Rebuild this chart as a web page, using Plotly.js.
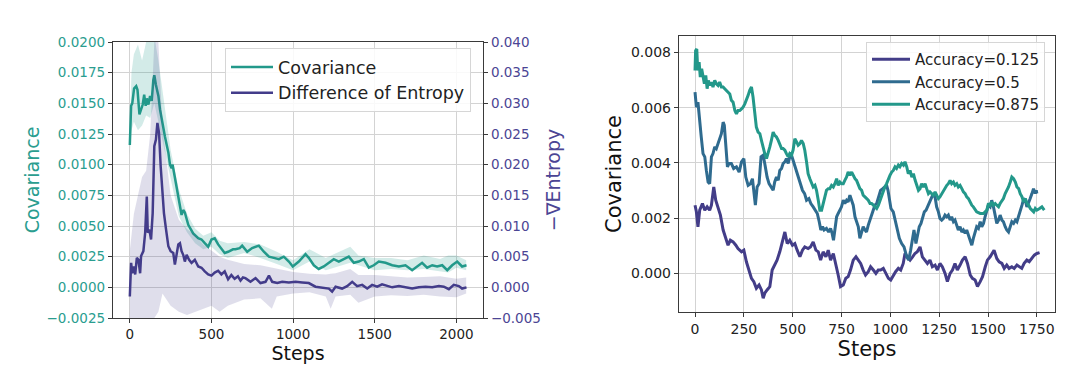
<!DOCTYPE html>
<html><head><meta charset="utf-8">
<script src="https://cdn.plot.ly/plotly-3.0.1.min.js"></script>
<style>html,body{margin:0;padding:0;background:#fff;} #chart{width:1080px;height:385px;}</style>
</head><body><div id="chart"></div>
<script>
// ---------- Left chart: Covariance (left axis) & Difference of Entropy (right axis) ----------
const covSteps = [0,8,15,26,39,47,59,67,79,88,97,104,114,124,134,144,150,160,175,185,195,205,215,226,236,246,256,262,272,287,297,307,317,327,337,358,388,419,439,459,480,500,520,541,561,581,602,632,647,673,688,719,749,790,821,852,882,913,943,974,998,1035,1076,1096,1127,1157,1188,1219,1249,1280,1311,1341,1372,1402,1433,1464,1494,1525,1566,1607,1648,1688,1729,1760,1790,1821,1852,1882,1913,1944,1974,2005,2035,2062];
const covValues = [0.0116,0.0148,0.0150,0.0162,0.0164,0.0161,0.0141,0.0144,0.0149,0.0157,0.0148,0.0154,0.0149,0.0156,0.0152,0.0169,0.0173,0.0165,0.0156,0.0145,0.0137,0.0130,0.0123,0.0116,0.0110,0.0100,0.0097,0.0100,0.0093,0.0082,0.0074,0.0066,0.0059,0.0063,0.0061,0.0051,0.0044,0.0040,0.0039,0.0036,0.0033,0.0039,0.0040,0.0035,0.0031,0.0028,0.0029,0.0031,0.0031,0.0032,0.0034,0.0029,0.0032,0.0034,0.0029,0.0025,0.0024,0.0023,0.0025,0.0021,0.0017,0.0021,0.0027,0.0024,0.0018,0.0015,0.0017,0.0020,0.0023,0.0021,0.0023,0.0025,0.0020,0.0021,0.0023,0.0016,0.0018,0.0021,0.0020,0.0018,0.0017,0.0018,0.0014,0.0017,0.0020,0.0016,0.0018,0.0017,0.0018,0.0014,0.0018,0.0021,0.0017,0.0018];

const covBandSteps = [0,10,25,50,75,100,125,150,175,200,250,300,350,400,450,500,550,600,700,800,900,1000,1100,1200,1300,1350,1400,1500,1600,1700,1800,1900,1950,2000,2060];
const covBandLower = [0.0108,0.0128,0.0135,0.0128,0.0132,0.0140,0.0138,0.0150,0.0135,0.0120,0.0090,0.0058,0.0045,0.0036,0.0031,0.0033,0.0027,0.0024,0.0028,0.0024,0.0019,0.0014,0.0021,0.0014,0.0018,0.0020,0.0018,0.0014,0.0015,0.0014,0.0015,0.0013,0.0012,0.0016,0.0014];
const covBandUpper = [0.0125,0.0175,0.0190,0.0198,0.0185,0.0200,0.0205,0.0205,0.0185,0.0160,0.0112,0.0080,0.0060,0.0048,0.0042,0.0045,0.0038,0.0036,0.0037,0.0035,0.0029,0.0022,0.0031,0.0024,0.0030,0.0033,0.0026,0.0024,0.0024,0.0022,0.0026,0.0023,0.0026,0.0026,0.0022];

const entSteps = [0,8,15,26,33,43,53,63,69,83,94,104,110,120,130,140,150,160,169,179,189,199,209,222,236,250,266,276,287,297,307,317,327,337,348,363,378,398,419,439,459,480,500,520,541,561,581,602,622,642,662,678,693,708,739,770,800,831,852,872,903,933,974,1015,1056,1096,1137,1178,1219,1239,1260,1300,1331,1362,1392,1423,1454,1484,1515,1545,1576,1607,1648,1688,1729,1770,1811,1852,1893,1923,1954,1984,2015,2035,2062];
const entValues = [-0.0015,0.0040,0.0023,0.0034,0.0021,0.0048,0.0045,0.0023,0.0051,0.0059,0.0089,0.0148,0.0089,0.0094,0.0078,0.0121,0.0230,0.0241,0.0268,0.0252,0.0197,0.0154,0.0121,0.0094,0.0067,0.0059,0.0056,0.0037,0.0056,0.0070,0.0072,0.0059,0.0053,0.0042,0.0053,0.0045,0.0040,0.0045,0.0034,0.0032,0.0026,0.0021,0.0019,0.0024,0.0027,0.0021,0.0026,0.0013,0.0020,0.0014,0.0018,0.0011,0.0016,0.0015,0.0009,0.0015,0.0007,0.0009,0.0019,0.0009,0.0007,0.0009,0.0008,0.0009,0.0008,0.0007,0.0001,0.0000,-0.0002,-0.0007,0.0001,-0.0002,0.0002,0.0009,0.0002,0.0004,-0.0002,0.0004,0.0001,0.0005,0.0002,0.0000,0.0002,0.0000,-0.0002,0.0000,0.0001,0.0000,0.0002,0.0001,-0.0003,0.0004,0.0002,-0.0002,0.0000];

const entBandSteps = [0,25,50,75,100,125,150,175,200,250,300,350,400,450,500,550,600,700,800,870,900,1000,1100,1200,1230,1260,1350,1400,1500,1600,1700,1800,1900,2000,2060];
const entBandLower = [-0.0050,-0.0050,-0.0050,-0.0050,-0.0050,-0.0050,-0.0050,-0.0040,-0.0010,-0.0030,-0.0040,-0.0045,-0.0040,-0.0035,-0.0030,-0.0040,-0.0030,-0.0020,-0.0018,-0.0035,-0.0015,-0.0010,-0.0008,-0.0015,-0.0035,-0.0015,-0.0012,-0.0025,-0.0015,-0.0013,-0.0014,-0.0012,-0.0015,-0.0016,-0.0010];
const entBandUpper = [0.0060,0.0120,0.0150,0.0180,0.0190,0.0250,0.0400,0.0400,0.0260,0.0150,0.0110,0.0095,0.0085,0.0070,0.0060,0.0050,0.0045,0.0038,0.0036,0.0032,0.0030,0.0025,0.0022,0.0021,0.0022,0.0023,0.0030,0.0020,0.0020,0.0018,0.0016,0.0017,0.0018,0.0014,0.0016];

const leftXTicks = [0,500,1000,1500,2000];

// ---------- Right chart: Covariance by accuracy ----------
const acc125Steps = [0,7,15,24,38,50,62,75,84,96,106,118,130,144,157,169,181,195,209,220,238,250,263,275,289,301,314,328,340,349,357,369,383,395,408,420,434,448,460,472,485,499,511,523,537,550,562,579,591,605,619,631,643,656,670,682,694,708,721,733,745,759,772,784,796,810,824,836,848,861,873,887,899,913,926,938,950,964,978,990,1002,1015,1027,1041,1053,1066,1075,1087,1101,1114,1126,1138,1152,1164,1178,1190,1203,1215,1229,1241,1254,1266,1280,1292,1306,1318,1331,1343,1357,1369,1383,1395,1409,1420,1434,1446,1460,1472,1486,1497,1511,1523,1531,1545,1557,1571,1583,1596,1608,1622,1634,1648,1659,1673,1685,1699,1711,1725,1737,1750,1764];
const acc125Values = [0.00247,0.00223,0.00169,0.00229,0.00253,0.00229,0.00241,0.00229,0.00247,0.00313,0.00265,0.00241,0.00211,0.00157,0.00127,0.00102,0.00120,0.00114,0.00102,0.00090,0.00078,0.00084,0.00042,0.00012,-0.00018,-0.00030,-0.00054,-0.00042,-0.00060,-0.00090,-0.00072,-0.00060,-0.00048,0.00012,0.00030,0.00048,0.00078,0.00120,0.00150,0.00108,0.00120,0.00102,0.00108,0.00084,0.00060,0.00084,0.00096,0.00090,0.00096,0.00114,0.00084,0.00078,0.00048,0.00078,0.00060,0.00084,0.00048,0.00072,0.00036,-0.00006,-0.00048,-0.00042,-0.00018,-0.00012,0.00012,0.00048,0.00060,0.00048,0.00036,0.00012,-0.00006,0.00006,0.00024,0.00012,0.00000,0.00012,0.00012,0.00018,0.00000,-0.00018,-0.00024,-0.00006,0.00006,0.00018,0.00012,0.00036,0.00072,0.00060,0.00048,0.00060,0.00072,0.00078,0.00096,0.00060,0.00048,0.00036,0.00048,0.00024,0.00030,0.00012,0.00036,0.00024,0.00000,-0.00030,0.00000,0.00012,0.00036,0.00012,0.00030,0.00048,0.00060,0.00036,-0.00006,-0.00018,-0.00024,-0.00048,-0.00030,-0.00012,0.00024,0.00048,0.00060,0.00072,0.00084,0.00054,0.00042,0.00036,0.00018,0.00030,0.00018,0.00024,0.00018,0.00030,0.00024,0.00018,0.00036,0.00048,0.00042,0.00054,0.00066,0.00072,0.00075];

const acc500Steps = [0,7,15,24,32,41,50,58,67,75,84,92,101,109,118,126,135,144,150,157,166,174,186,198,212,226,238,250,260,272,284,294,301,309,318,328,338,349,357,369,379,391,400,408,417,426,434,443,451,460,468,477,485,494,502,511,520,530,540,550,561,571,583,593,605,617,626,636,644,653,661,673,684,694,702,709,716,725,733,742,750,759,767,776,784,793,802,810,819,827,836,844,853,861,870,878,887,896,904,913,921,930,940,950,961,971,981,988,995,1003,1015,1025,1036,1046,1058,1070,1084,1094,1104,1114,1121,1131,1140,1148,1157,1166,1174,1183,1193,1203,1212,1220,1229,1237,1246,1254,1263,1272,1280,1289,1297,1306,1314,1323,1331,1340,1348,1357,1366,1374,1383,1391,1400,1408,1417,1425,1434,1442,1451,1460,1468,1477,1485,1494,1502,1511,1519,1528,1536,1545,1554,1562,1571,1579,1588,1596,1605,1614,1622,1631,1640,1648,1657,1665,1674,1683,1691,1699,1707,1716,1725,1733,1742,1747,1750];
const acc500Values = [0.00657,0.00602,0.00620,0.00542,0.00494,0.00434,0.00422,0.00373,0.00331,0.00325,0.00422,0.00434,0.00458,0.00452,0.00470,0.00482,0.00506,0.00548,0.00536,0.00470,0.00386,0.00398,0.00398,0.00380,0.00386,0.00367,0.00404,0.00416,0.00349,0.00319,0.00325,0.00343,0.00307,0.00247,0.00313,0.00325,0.00422,0.00428,0.00398,0.00349,0.00325,0.00313,0.00301,0.00331,0.00349,0.00337,0.00373,0.00380,0.00398,0.00404,0.00416,0.00398,0.00422,0.00428,0.00410,0.00398,0.00373,0.00349,0.00325,0.00301,0.00289,0.00265,0.00271,0.00253,0.00241,0.00229,0.00217,0.00187,0.00157,0.00169,0.00157,0.00163,0.00150,0.00163,0.00145,0.00120,0.00169,0.00205,0.00217,0.00229,0.00241,0.00265,0.00253,0.00265,0.00259,0.00283,0.00265,0.00247,0.00205,0.00187,0.00169,0.00127,0.00150,0.00169,0.00157,0.00150,0.00175,0.00193,0.00211,0.00229,0.00247,0.00253,0.00277,0.00301,0.00307,0.00313,0.00319,0.00301,0.00265,0.00235,0.00223,0.00193,0.00157,0.00127,0.00108,0.00096,0.00060,0.00048,0.00084,0.00133,0.00157,0.00108,0.00145,0.00169,0.00181,0.00205,0.00223,0.00229,0.00247,0.00265,0.00277,0.00289,0.00277,0.00241,0.00223,0.00199,0.00193,0.00199,0.00211,0.00205,0.00211,0.00193,0.00205,0.00187,0.00193,0.00169,0.00157,0.00169,0.00150,0.00157,0.00145,0.00157,0.00139,0.00120,0.00102,0.00127,0.00145,0.00169,0.00163,0.00187,0.00169,0.00181,0.00205,0.00223,0.00247,0.00241,0.00265,0.00241,0.00205,0.00181,0.00193,0.00211,0.00193,0.00187,0.00169,0.00157,0.00150,0.00169,0.00187,0.00181,0.00193,0.00187,0.00205,0.00223,0.00247,0.00271,0.00265,0.00241,0.00253,0.00271,0.00289,0.00307,0.00289,0.00301,0.00289];

const acc875Steps = [0,3,9,14,21,27,34,41,48,55,62,68,75,84,92,101,109,118,126,135,144,152,161,169,178,186,195,204,212,220,229,238,246,255,263,272,280,289,297,306,314,323,332,340,349,357,366,374,383,391,400,408,417,426,434,443,451,460,468,477,485,494,502,511,520,528,537,545,554,562,571,579,588,597,605,614,622,631,639,648,656,665,673,682,690,699,708,716,725,733,742,750,759,767,776,784,793,802,810,819,827,836,844,853,861,870,878,887,896,904,913,921,930,939,947,955,964,972,981,990,998,1007,1015,1024,1032,1041,1049,1058,1067,1075,1084,1092,1101,1110,1118,1127,1135,1144,1152,1160,1169,1178,1186,1195,1203,1212,1220,1229,1237,1246,1254,1263,1272,1280,1289,1297,1306,1314,1323,1331,1340,1348,1357,1366,1374,1383,1391,1400,1408,1417,1425,1434,1442,1460,1477,1494,1502,1511,1519,1528,1537,1545,1554,1562,1571,1579,1588,1597,1605,1614,1622,1631,1640,1648,1657,1665,1674,1683,1691,1700,1708,1717,1725,1734,1742,1750,1764,1776,1788];
const acc875Values = [0.00735,0.00807,0.00813,0.00735,0.00765,0.00711,0.00741,0.00705,0.00687,0.00717,0.00669,0.00699,0.00681,0.00693,0.00675,0.00699,0.00687,0.00681,0.00693,0.00675,0.00675,0.00669,0.00663,0.00657,0.00650,0.00627,0.00620,0.00590,0.00578,0.00590,0.00590,0.00596,0.00602,0.00614,0.00627,0.00645,0.00663,0.00675,0.00639,0.00578,0.00530,0.00512,0.00506,0.00482,0.00452,0.00434,0.00416,0.00434,0.00458,0.00482,0.00512,0.00500,0.00494,0.00482,0.00464,0.00452,0.00452,0.00446,0.00434,0.00422,0.00434,0.00428,0.00446,0.00488,0.00476,0.00464,0.00470,0.00482,0.00470,0.00446,0.00404,0.00361,0.00343,0.00325,0.00313,0.00319,0.00301,0.00265,0.00229,0.00229,0.00253,0.00283,0.00301,0.00307,0.00307,0.00319,0.00313,0.00325,0.00343,0.00319,0.00331,0.00325,0.00325,0.00337,0.00349,0.00367,0.00355,0.00367,0.00355,0.00343,0.00337,0.00319,0.00307,0.00301,0.00283,0.00277,0.00271,0.00265,0.00253,0.00253,0.00247,0.00241,0.00235,0.00247,0.00265,0.00283,0.00295,0.00313,0.00325,0.00343,0.00355,0.00367,0.00373,0.00386,0.00380,0.00392,0.00386,0.00398,0.00392,0.00404,0.00386,0.00361,0.00373,0.00349,0.00361,0.00337,0.00319,0.00301,0.00307,0.00325,0.00313,0.00325,0.00307,0.00289,0.00295,0.00289,0.00283,0.00295,0.00283,0.00271,0.00277,0.00289,0.00301,0.00307,0.00319,0.00325,0.00337,0.00325,0.00331,0.00319,0.00325,0.00313,0.00319,0.00307,0.00295,0.00289,0.00277,0.00271,0.00259,0.00247,0.00241,0.00229,0.00223,0.00217,0.00217,0.00229,0.00253,0.00247,0.00259,0.00247,0.00253,0.00247,0.00241,0.00253,0.00265,0.00271,0.00289,0.00301,0.00313,0.00331,0.00349,0.00343,0.00331,0.00313,0.00307,0.00289,0.00277,0.00259,0.00271,0.00253,0.00247,0.00235,0.00229,0.00223,0.00235,0.00229,0.00235,0.00241,0.00229];

const rightXTicks = [0,250,500,750,1000,1250,1500,1750];
const rightYTicks = [0,0.002,0.004,0.006,0.008];

// ---------- styling ----------
const FONT = 'DejaVu Sans, Liberation Sans, sans-serif';
const tealL = '#22998a', purpleL = '#433c8a';
const cPurple = '#433d88', cBlue = '#2f6b8f', cTeal = '#23988a';
const W = 1080, H = 385;
const px = v => v / W, py = v => (H - v) / H;

const traces = [
  {x: covBandSteps, y: covBandLower, xaxis:'x', yaxis:'y', mode:'lines', line:{width:0, color:'rgba(0,0,0,0)'}, showlegend:false, hoverinfo:'skip'},
  {x: covBandSteps, y: covBandUpper, xaxis:'x', yaxis:'y', mode:'lines', line:{width:0, color:'rgba(0,0,0,0)'}, fill:'tonexty', fillcolor:'rgba(34,153,138,0.2)', showlegend:false, hoverinfo:'skip'},
  {x: covSteps, y: covValues, xaxis:'x', yaxis:'y', mode:'lines', name:'Covariance', line:{color:tealL, width:2.5}, legend:'legend'},
  {x: entBandSteps, y: entBandLower, xaxis:'x', yaxis:'y2', mode:'lines', line:{width:0, color:'rgba(0,0,0,0)'}, showlegend:false, hoverinfo:'skip'},
  {x: entBandSteps, y: entBandUpper, xaxis:'x', yaxis:'y2', mode:'lines', line:{width:0, color:'rgba(0,0,0,0)'}, fill:'tonexty', fillcolor:'rgba(67,60,138,0.17)', showlegend:false, hoverinfo:'skip'},
  {x: entSteps, y: entValues, xaxis:'x', yaxis:'y2', mode:'lines', name:'Difference of Entropy', line:{color:purpleL, width:2.5}, legend:'legend'},
  {x: acc125Steps, y: acc125Values, xaxis:'x2', yaxis:'y3', mode:'lines', name:'Accuracy=0.125', line:{color:cPurple, width:3}, legend:'legend2'},
  {x: acc500Steps, y: acc500Values, xaxis:'x2', yaxis:'y3', mode:'lines', name:'Accuracy=0.5', line:{color:cBlue, width:3}, legend:'legend2'},
  {x: acc875Steps, y: acc875Values, xaxis:'x2', yaxis:'y3', mode:'lines', name:'Accuracy=0.875', line:{color:cTeal, width:3}, legend:'legend2'}
];

const axBase = {showline:true, linecolor:'#3a3a3a', linewidth:1.2, ticks:'outside', ticklen:4, tickwidth:1, tickcolor:'#3a3a3a', gridcolor:'#d3d3d3', gridwidth:1, zeroline:false};

const layout = {
  width: W, height: H, margin:{l:0,r:0,t:0,b:0}, paper_bgcolor:'#fff', plot_bgcolor:'#fff',
  font:{family:FONT, color:'#222'},
  xaxis: Object.assign({}, axBase, {domain:[px(113), px(483)], anchor:'y', range:[-103, 2163], tickvals:leftXTicks, mirror:true,
    tickfont:{size:13.5, color:'#222'}, title:{text:'Steps', font:{size:19, color:'#111'}, standoff:1}}),
  yaxis: Object.assign({}, axBase, {domain:[py(318), py(42)], anchor:'x', range:[-0.0025, 0.02], dtick:0.0025, tick0:0, tickformat:'.4f',
    tickfont:{size:13.5, color:'#2a9d8f'}, title:{text:'Covariance', font:{size:19, color:'#2a9d8f'}, standoff:1}}),
  yaxis2: Object.assign({}, axBase, {overlaying:'y', side:'right', anchor:'x', range:[-0.005, 0.04], dtick:0.005, tick0:0, tickformat:'.3f', showgrid:false,
    tickfont:{size:13.5, color:'#4b4594'}, title:{text:'\u2212\u2207Entropy', font:{size:19, color:'#4b4594'}, standoff:6}}),
  xaxis2: Object.assign({}, axBase, {domain:[px(679), px(1055)], anchor:'y3', range:[-82, 1843], tickvals:rightXTicks, mirror:true,
    tickfont:{size:14, color:'#222'}, title:{text:'Steps', font:{size:21, color:'#111'}, standoff:0}}),
  yaxis3: Object.assign({}, axBase, {domain:[py(312), py(36)], anchor:'x2', range:[-0.0014, 0.0086], tickvals:rightYTicks, tickformat:'.3f', mirror:true,
    tickfont:{size:14, color:'#222'}, title:{text:'Covariance', font:{size:21, color:'#111'}, standoff:3}}),
  legend: {x:px(225), y:py(48), xanchor:'left', yanchor:'top', traceorder:'normal', itemwidth:42, font:{size:17.5, family:FONT, color:'#222'},
    bgcolor:'rgba(255,255,255,0.85)', bordercolor:'#d6d6d6', borderwidth:1},
  legend2: {x:px(866), y:py(42), xanchor:'left', yanchor:'top', traceorder:'normal', itemwidth:38, font:{size:15, family:FONT, color:'#222'},
    bgcolor:'rgba(255,255,255,0.85)', bordercolor:'#d6d6d6', borderwidth:1},
  showlegend: true
};

Plotly.newPlot('chart', traces, layout, {staticPlot:true, displayModeBar:false});
</script>
</body></html>
